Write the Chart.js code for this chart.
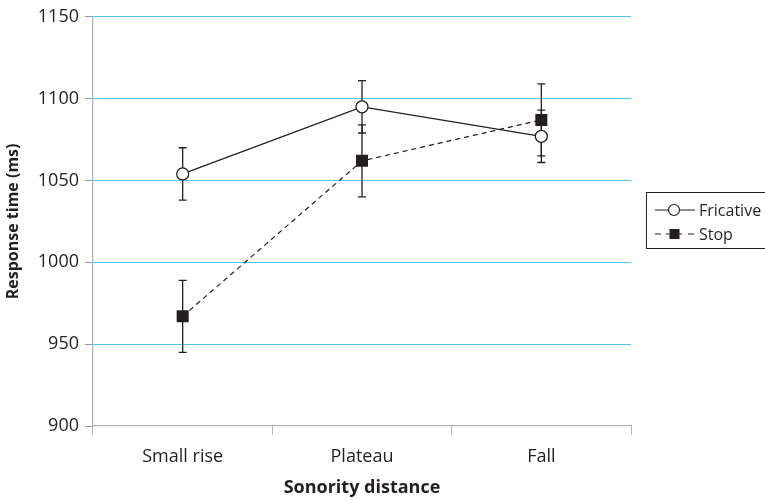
<!DOCTYPE html>
<html>
<head>
<meta charset="utf-8">
<script src="https://cdn.jsdelivr.net/npm/chart.js@4.4.1/dist/chart.umd.min.js"></script>
<style>
html,body{margin:0;padding:0;background:#fff;}
#wrap{width:765px;height:501px;position:relative;}
</style>
</head>
<body>
<div id="wrap"><canvas id="c" width="765" height="501"></canvas></div>
<script>
const categories = ['Small rise', 'Plateau', 'Fall'];
const fricative = [1054, 1095, 1077];
const fricativeErr = [16, 16, 16];
const stop = [967, 1062, 1087];
const stopErr = [22, 22, 22];
const yTicks = [900, 950, 1000, 1050, 1100, 1150];
const seriesNames = ['Fricative', 'Stop'];

const FONT = '"Open Sans", "Noto Sans", sans-serif';
const INK = '#231f20';
const errs = [fricativeErr, stopErr];

const errorBars = {
  id: 'errorBars',
  beforeDatasetsDraw(chart) {
    const ctx = chart.ctx, y = chart.scales.y;
    ctx.save();
    ctx.strokeStyle = INK;
    ctx.lineWidth = 1.3;
    chart.data.datasets.forEach((ds, di) => {
      const meta = chart.getDatasetMeta(di);
      meta.data.forEach((pt, i) => {
        const v = ds.data[i], e = errs[di][i];
        const yt = y.getPixelForValue(v + e), yb = y.getPixelForValue(v - e);
        const x = pt.x;
        ctx.beginPath();
        ctx.moveTo(x, yt); ctx.lineTo(x, yb);
        ctx.moveTo(x - 4, yt); ctx.lineTo(x + 4, yt);
        ctx.moveTo(x - 4, yb); ctx.lineTo(x + 4, yb);
        ctx.stroke();
      });
    });
    ctx.restore();
  }
};

const boxLegend = {
  id: 'boxLegend',
  afterDraw(chart) {
    const ctx = chart.ctx;
    const L = 646, T = 192, B = 248;
    ctx.save();
    ctx.strokeStyle = INK;
    ctx.lineWidth = 1;
    ctx.strokeRect(L + 0.5, T + 0.5, 200, B - T);
    const rows = [210, 234];
    ctx.font = '16px ' + FONT;
    ctx.textBaseline = 'middle';
    rows.forEach((ry, i) => {
      ctx.strokeStyle = INK;
      ctx.lineWidth = 1.2;
      ctx.beginPath();
      if (i === 0) {
        ctx.moveTo(655, ry); ctx.lineTo(695, ry);
        ctx.stroke();
        ctx.beginPath();
        ctx.arc(674, ry, 5.5, 0, Math.PI * 2);
        ctx.fillStyle = '#fff'; ctx.fill();
        ctx.stroke();
      } else {
        ctx.moveTo(655, ry); ctx.lineTo(661, ry);
        ctx.moveTo(666, ry); ctx.lineTo(682, ry);
        ctx.moveTo(688, ry); ctx.lineTo(694, ry);
        ctx.stroke();
        ctx.fillStyle = INK;
        ctx.fillRect(669.5, ry - 5, 10, 10);
      }
      ctx.fillStyle = INK;
      ctx.fillText(seriesNames[i], 699, ry + 1);
    });
    ctx.restore();
  }
};

new Chart(document.getElementById('c'), {
  type: 'line',
  data: {
    labels: categories,
    datasets: [
      {
        label: seriesNames[0], data: fricative,
        borderColor: INK, borderWidth: 1.3,
        pointStyle: 'circle', pointRadius: 6, pointBorderWidth: 1.3,
        pointBackgroundColor: '#fff', pointBorderColor: INK,
        tension: 0, fill: false
      },
      {
        label: seriesNames[1], data: stop,
        borderColor: INK, borderWidth: 1.2, borderDash: [5, 4],
        pointStyle: 'rect', pointRadius: 8.5, pointBorderWidth: 0,
        pointBackgroundColor: INK, pointBorderColor: INK,
        tension: 0, fill: false
      }
    ]
  },
  options: {
    responsive: false,
    animation: false,
    devicePixelRatio: 1,
    layout: { padding: { left: 0, right: 134, top: 16, bottom: 0 } },
    plugins: { legend: { display: false }, tooltip: { enabled: false } },
    scales: {
      x: {
        type: 'category',
        offset: true,
        afterFit(s) { s.height = 75; },
        grid: {
          offset: true, drawOnChartArea: false, drawTicks: true,
          tickLength: 9, color: '#b3b3b3', tickColor: '#b3b3b3'
        },
        border: { color: '#b3b3b3', width: 1.3 },
        ticks: { color: INK, font: { family: FONT, size: 18 }, padding: 11 },
        title: {
          display: true, text: 'Sonority distance', color: INK,
          font: { family: FONT, size: 18, weight: 'bold' }, padding: { top: 0, bottom: 2 }
        }
      },
      y: {
        min: 900, max: 1150,
        afterFit(s) { s.width = 93; },
        afterBuildTicks(s) { s.ticks = yTicks.map(v => ({ value: v })); },
        grid: {
          color: ctx => (ctx.tick && ctx.tick.value === 900) ? 'rgba(0,0,0,0)' : '#4cc6ee',
          lineWidth: 1,
          tickColor: '#9a9a9a', tickLength: 8, drawTicks: true
        },
        border: { color: '#b3b3b3', width: 1.3 },
        ticks: {
          color: INK, font: { family: FONT, size: 18 }, padding: 6,
          callback: v => String(v)
        },
        title: {
          display: true, text: 'Response time (ms)', color: INK,
          font: { family: FONT, size: 16, weight: 'bold' }, padding: { bottom: 2 }
        }
      }
    }
  },
  plugins: [errorBars, boxLegend]
});
</script>
</body>
</html>
